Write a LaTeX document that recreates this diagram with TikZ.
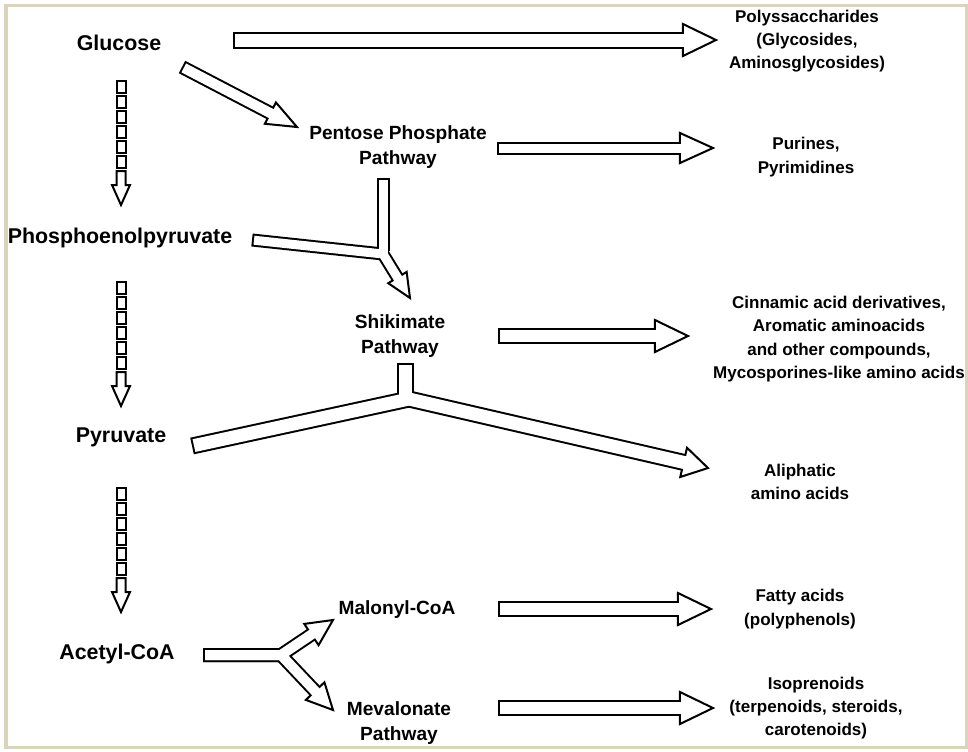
\documentclass[tikz,border=0pt]{standalone}
\usepackage{fontspec}
\setmainfont{Liberation Sans}
\usetikzlibrary{calc}
\definecolor{framebeige}{HTML}{DAD4BA}

% hollow block arrows: black stroke, head, then white stroke on top
\newcommand{\arrowhead}[3]{%
  \filldraw[headline] ($(#1)!#3!90:(#2)$) -- (#2) -- ($(#1)!#3!-90:(#2)$) -- cycle;}
\newcommand{\fatarrow}[5]{%
  \coordinate (hb) at ($(#2)!#5!(#1)$);
  \draw[shaftout,line width=#3] (#1) -- (hb);
  \arrowhead{hb}{#2}{#4}
  \draw[shaftin,line width={#3-0.1cm}] (#1) -- (hb);}
\newcommand{\dotarrow}[1]{%
  \foreach \k in {0,...,5}
    \draw[boxline] ($(#1)+(-4.5,15*\k)$) rectangle ++(9,12);
  \draw[boxline] ($(#1)+(-4.5,90)$) -- ++(9,0) -- ++(0,14) -- ++(4.5,0)
    -- ($(#1)+(0,124)$) -- ($(#1)+(-9,104)$) -- ++(4.5,0) -- cycle;}

\begin{document}
\begin{tikzpicture}[x=0.025cm,y=-0.025cm,
    srcnode/.style={font=\bfseries\fontsize{15.2}{18}\selectfont,inner sep=0pt},
    pathnode/.style={font=\bfseries\fontsize{13.6}{17.8}\selectfont,align=center,inner sep=0pt},
    prodnode/.style={font=\bfseries\fontsize{12.1}{16.5}\selectfont,align=center,inner sep=0pt},
    shaftout/.style={draw=black,line cap=butt,line join=miter},
    shaftin/.style={draw=white,line cap=butt,line join=miter,shorten <=0.05cm,shorten >=-0.08cm},
    headline/.style={draw=black,fill=white,line width=0.05cm,line join=miter},
    boxline/.style={draw=black,fill=white,line width=0.05cm,line join=miter}]
    \useasboundingbox (0,0) rectangle (968,751);
    \fill[white] (0,0) rectangle (968,751);
    \draw[framebeige,line width=0.075cm] (6,5) rectangle (966,747);

    \node[srcnode] (glc) at (119,43) {Glucose};
    \node[srcnode] (pep) at (120,238) {Phosphoenolpyruvate};
    \node[srcnode] (pyr) at (121,437) {Pyruvate};
    \node[srcnode] (acc) at (117,654) {Acetyl-CoA};

    \node[pathnode] (ppp) at (398,147) {Pentose Phosphate\\Pathway};
    \node[pathnode] (shk) at (400,336) {Shikimate\\Pathway};
    \node[pathnode] (mal) at (397,610) {Malonyl-CoA};
    \node[pathnode] (mev) at (399,723) {Mevalonate\\Pathway};

    \node[prodnode] (poly) at (807,41) {Polyssaccharides\\(Glycosides,\\Aminosglycosides)};
    \node[prodnode] (pur) at (806,157) {Purines,\\Pyrimidines};
    \node[prodnode] (cin) at (839,339) {Cinnamic acid derivatives,\\Aromatic aminoacids\\and other compounds,\\Mycosporines-like amino acids};
    \node[prodnode] (ali) at (800,482) {Aliphatic\\amino acids};
    \node[prodnode] (fat) at (800,609) {Fatty acids\\(polyphenols)};
    \node[prodnode] (iso) at (816,708) {Isoprenoids\\(terpenoids, steroids,\\carotenoids)};

    % dotted steps of glycolysis
    \coordinate (d1) at (121,81);
    \coordinate (d2) at (121,282);
    \coordinate (d3) at (121,488);
    \dotarrow{d1}
    \dotarrow{d2}
    \dotarrow{d3}

    % straight block arrows
    \coordinate (glc-r) at (233,40);   \coordinate (poly-l) at (716,40);
    \coordinate (glc-d) at (182,67);   \coordinate (ppp-l) at (297,127);
    \coordinate (ppp-r) at (497,148);  \coordinate (pur-l) at (713,148);
    \coordinate (shk-r) at (498,336);  \coordinate (cin-l) at (688,336);
    \coordinate (mal-r) at (498,609);  \coordinate (fat-l) at (711,609);
    \coordinate (mev-r) at (498,708);  \coordinate (iso-l) at (713,708);
    \fatarrow{glc-r}{poly-l}{0.425cm}{0.4cm}{0.825cm}
    \fatarrow{glc-d}{ppp-l}{0.35cm}{0.3cm}{0.75cm}
    \fatarrow{ppp-r}{pur-l}{0.325cm}{0.375cm}{0.825cm}
    \fatarrow{shk-r}{cin-l}{0.4cm}{0.4cm}{0.825cm}
    \fatarrow{mal-r}{fat-l}{0.4cm}{0.4cm}{0.825cm}
    \fatarrow{mev-r}{iso-l}{0.4cm}{0.4cm}{0.825cm}

    % pentose + PEP -> shikimate
    \coordinate (ppp-d) at (383,178);
    \coordinate (ppp-b) at (383,251);
    \coordinate (pep-r) at (252,240);
    \coordinate (j1) at (383,254);
    \coordinate (shk-u) at (410,298);
    \coordinate (hb) at ($(shk-u)!0.6cm!(j1)$);
    \draw[shaftout,line width=0.325cm] (ppp-d) -- (ppp-b);
    \draw[shaftout,line width=0.325cm] (pep-r) -- (j1) -- (hb);
    \arrowhead{hb}{shk-u}{0.27cm}
    \draw[shaftin,line width=0.225cm] (ppp-d) -- (ppp-b);
    \draw[shaftin,line width=0.225cm] (pep-r) -- (j1) -- (hb);

    % shikimate + pyruvate -> aliphatic
    \coordinate (shk-d) at (405,363);
    \coordinate (shk-b) at (405,397);
    \coordinate (pyr-r) at (192,446);
    \coordinate (j2) at (409,399);
    \coordinate (ali-l) at (708,468);
    \coordinate (hb) at ($(ali-l)!0.625cm!(j2)$);
    \draw[shaftout,line width=0.425cm] (shk-d) -- (shk-b);
    \draw[shaftout,line width=0.425cm] (pyr-r) -- (j2) -- (hb);
    \arrowhead{hb}{ali-l}{0.375cm}
    \draw[shaftin,line width=0.325cm] (shk-d) -- (shk-b);
    \draw[shaftin,line width=0.325cm] (pyr-r) -- (j2) -- (hb);

    % acetyl-CoA -> malonyl-CoA, mevalonate
    \coordinate (acc-r) at (203,655);
    \coordinate (j3) at (281,655);
    \coordinate (mal-l) at (333,620);
    \coordinate (mev-l) at (333,710);
    \coordinate (hbu) at ($(mal-l)!0.65cm!(j3)$);
    \coordinate (hbl) at ($(mev-l)!0.65cm!(j3)$);
    \draw[shaftout,line width=0.35cm] (acc-r) -- (j3) -- (hbu);
    \draw[shaftout,line width=0.35cm] (acc-r) -- (j3) -- (hbl);
    \arrowhead{hbu}{mal-l}{0.32cm}
    \arrowhead{hbl}{mev-l}{0.32cm}
    \draw[shaftin,line width=0.25cm] (acc-r) -- (j3) -- (hbu);
    \draw[shaftin,line width=0.25cm] (acc-r) -- (j3) -- (hbl);
\end{tikzpicture}
\end{document}
